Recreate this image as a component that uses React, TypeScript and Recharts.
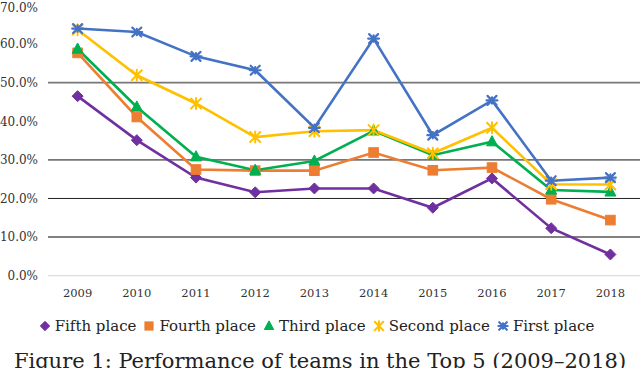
import React from 'react';
import { LineChart, Line, XAxis, YAxis, ReferenceLine, Legend } from 'recharts';

const years = ['2009', '2010', '2011', '2012', '2013', '2014', '2015', '2016', '2017', '2018'];
const fifthPlace = [46.5, 35.1, 25.4, 21.6, 22.6, 22.6, 17.6, 25.2, 12.3, 5.5];
const fourthPlace = [57.7, 41.1, 27.5, 27.2, 27.2, 31.9, 27.3, 28.0, 19.8, 14.4];
const thirdPlace = [58.7, 43.7, 30.8, 27.3, 29.7, 37.5, 31.2, 34.7, 22.2, 21.7];
const secondPlace = [63.7, 51.9, 44.6, 35.9, 37.4, 37.7, 31.7, 38.3, 23.7, 23.6];
const firstPlace = [64.0, 63.1, 56.8, 53.2, 38.3, 61.4, 36.4, 45.4, 24.6, 25.4];
const yTicks = [0, 10, 20, 30, 40, 50, 60, 70];
const gridLines = [
  { v: 50, color: '#777777', w: 1.6 },
  { v: 30, color: '#777777', w: 1.6 },
  { v: 20, color: '#222222', w: 1 },
  { v: 10, color: '#808080', w: 2 },
  { v: 0, color: '#d6d6d6', w: 1 },
];
const caption = 'Figure 1: Performance of teams in the Top 5 (2009–2018)';

const seriesDefs = [
  { key: 'fifth', name: 'Fifth place', color: '#7030A0', shape: 'diamond', values: fifthPlace },
  { key: 'fourth', name: 'Fourth place', color: '#ED7D31', shape: 'square', values: fourthPlace },
  { key: 'third', name: 'Third place', color: '#00B050', shape: 'triangle', values: thirdPlace },
  { key: 'second', name: 'Second place', color: '#FFC000', shape: 'star', values: secondPlace },
  { key: 'first', name: 'First place', color: '#4472C4', shape: 'xstar', values: firstPlace },
];

const data = years.map((y, i) => {
  const row: any = { year: y };
  seriesDefs.forEach((s) => {
    row[s.key] = s.values[i];
  });
  return row;
});

const FONT = '"DejaVu Serif", serif';

function Marker({ shape, color, cx, cy, s = 1 }: any) {
  if (shape === 'diamond') {
    const r = 5.5 * s;
    return <polygon points={`${cx},${cy - r} ${cx + r},${cy} ${cx},${cy + r} ${cx - r},${cy}`} fill={color} stroke={color} strokeWidth={1} />;
  }
  if (shape === 'square') {
    const r = 4.8 * s;
    return <rect x={cx - r} y={cy - r} width={2 * r} height={2 * r} fill={color} stroke={color} strokeWidth={1} />;
  }
  if (shape === 'triangle') {
    const r = 5.5 * s;
    return <polygon points={`${cx},${cy - r * 1.1} ${cx + r},${cy + r * 0.75} ${cx - r},${cy + r * 0.75}`} fill={color} stroke={color} strokeWidth={1} />;
  }
  if (shape === 'star') {
    const r = 5 * s;
    return (
      <g stroke={color} strokeWidth={2} strokeLinecap="round">
        <line x1={cx - r} y1={cy - r} x2={cx + r} y2={cy + r} />
        <line x1={cx - r} y1={cy + r} x2={cx + r} y2={cy - r} />
        <line x1={cx} y1={cy - r * 1.1} x2={cx} y2={cy + r * 1.1} />
      </g>
    );
  }
  const r = 4.5 * s;
  return (
    <g stroke={color} strokeWidth={2.2} strokeLinecap="round">
      <line x1={cx - r} y1={cy - r} x2={cx + r} y2={cy + r} />
      <line x1={cx - r} y1={cy + r} x2={cx + r} y2={cy - r} />
      <line x1={cx - r * 1.2} y1={cy} x2={cx + r * 1.2} y2={cy} />
      <line x1={cx} y1={cy - r * 0.7} x2={cx} y2={cy + r * 0.7} />
    </g>
  );
}

function makeDot(shape: string, color: string) {
  return (props: any) => {
    const { cx, cy, index } = props;
    if (cx == null || cy == null) return <g key={index} />;
    return (
      <g key={`${shape}-${index}`}>
        <Marker shape={shape} color={color} cx={cx} cy={cy} />
      </g>
    );
  };
}

function LegendContent() {
  return (
    <div style={{ display: 'flex', justifyContent: 'center', alignItems: 'center', fontFamily: FONT, fontSize: 15, color: '#222', height: 24 }}>
      {seriesDefs.map((s) => (
        <div key={s.key} style={{ display: 'flex', alignItems: 'center', marginRight: 7 }}>
          <svg width={12} height={12} style={{ marginRight: 4 }}>
            <Marker shape={s.shape} color={s.color} cx={6} cy={6} s={0.85} />
          </svg>
          <span>{s.name}</span>
        </div>
      ))}
    </div>
  );
}

export default function App() {
  return (
    <div style={{ position: 'absolute', left: 0, top: 0, width: 640, height: 368, overflow: 'hidden', background: '#fff' }}>
      <LineChart width={640} height={368} data={data} margin={{ top: 5.4, right: 0, bottom: 38.3, left: 0 }}>
        <XAxis
          dataKey="year"
          padding={{ left: 29.6, right: 29.6 }}
          axisLine={false}
          tickLine={false}
          tickSize={0}
          tickMargin={13}
          height={30}
          interval={0}
          tick={{ fontFamily: FONT, fontSize: 11.5, fill: '#333' }}
        />
        <YAxis
          domain={[0, 70]}
          ticks={yTicks}
          width={48}
          axisLine={false}
          tickLine={false}
          tickSize={0}
          tickMargin={10}
          tickFormatter={(v: number) => `${v.toFixed(1)}%`}
          tick={{ fontFamily: FONT, fontSize: 12, fill: '#333' }}
        />
        {gridLines.map((g) => (
          <ReferenceLine key={g.v} y={g.v} stroke={g.color} strokeWidth={g.w} />
        ))}
        {seriesDefs.map((s) => (
          <Line
            key={s.key}
            dataKey={s.key}
            name={s.name}
            stroke={s.color}
            strokeWidth={2.6}
            dot={makeDot(s.shape, s.color)}
            activeDot={false}
            isAnimationActive={false}
          />
        ))}
        <Legend content={<LegendContent />} verticalAlign="bottom" wrapperStyle={{ top: 314, bottom: 'auto', left: 0, width: 640, height: 24 }} />
      </LineChart>
      <div style={{ position: 'absolute', left: 0, top: 349, width: 640, textAlign: 'center', fontFamily: FONT, fontSize: 21, color: '#222', whiteSpace: 'nowrap' }}>
        {caption}
      </div>
    </div>
  );
}
